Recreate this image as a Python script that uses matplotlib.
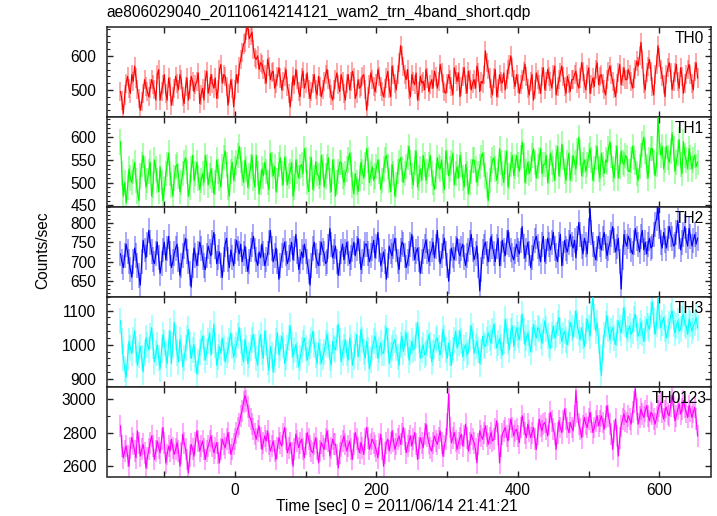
import numpy as np
import matplotlib
matplotlib.use("Agg")
import matplotlib.pyplot as plt
from matplotlib.ticker import MultipleLocator

plt.rcParams['font.family'] = ['Liberation Sans', 'DejaVu Sans']

title = "ae806029040_20110614214121_wam2_trn_4band_short.qdp"
xlabel = "Time [sec] 0 = 2011/06/14 21:41:21"
ylabel = "Counts/sec"

t_start = -162
t_step = 2

th0 = [495,470, 430,485, 520,540, 505,490, 545,525, 570,535, 500,475, 440,465, 490,530, 510,495,
       480,505, 530,515, 500,470, 545,560, 470,495, 515,545, 490,470, 535,510, 455,480, 505,540,
       520,500, 545,530, 480,460, 510,535, 470,500, 540,525, 495,515, 525,550, 460,485, 505,470,
       530,555, 490,510, 545,520, 505,535, 475,500, 560,575, 520,545, 540,510, 455,490, 530,505,
       450,500, 545,520, 570,590, 610,635, 640,675, 690,650, 660,670, 620,595, 590,600, 560,580,
       575,560, 545,520, 590,570, 530,550, 555,505, 520,540, 565,535, 500,525, 540,560, 510,490,
       450,495, 540,515, 560,530, 495,480, 535,555, 505,520, 550,500, 475,495, 520,545, 500,485,
       540,510, 480,500, 525,545, 560,530, 505,485, 470,500, 530,550, 515,495, 545,525, 490,470,
       520,545, 500,525, 555,535, 475,490, 530,505, 510,540, 545,500, 440,480, 515,550, 530,510,
       495,520, 560,540, 510,495, 480,505, 535,555, 505,480, 570,545, 520,500, 545,580, 630,600,
       570,545, 530,560, 500,480, 545,525, 515,550, 470,495, 540,520, 525,500, 560,535, 495,515,
       530,505, 555,540, 505,525, 575,550, 520,495, 490,520, 545,530, 510,485, 565,545, 525,550,
       480,510, 540,565, 515,490, 555,530, 500,520, 530,505, 570,550, 495,525, 520,545, 615,580,
       560,535, 505,485, 535,560, 480,505, 545,525, 520,550, 500,530, 560,575, 600,565, 530,510,
       545,520, 490,515, 530,555, 575,540, 505,485, 525,545, 470,500, 550,530, 515,490, 540,565,
       500,525, 560,540, 525,505, 545,570, 485,510, 530,550, 570,540, 510,490, 540,520, 495,530,
       530,545, 555,520, 505,535, 580,555, 520,500, 545,565, 490,515, 535,510, 560,580, 515,540,
       545,520, 500,485, 530,555, 570,545, 525,505, 480,520, 550,575, 515,540, 565,530, 530,560,
       545,525, 505,535, 560,585, 570,600, 640,590, 520,500, 550,570, 590,555, 510,485, 545,575,
       630,595, 560,540, 515,480, 545,565, 580,550, 500,525, 550,575, 525,505, 565,540, 490,520,
       545,560, 575,545, 520,500, 555,580, 535]

th1 = [590,520, 470,500, 455,490, 530,510, 500,525, 545,505, 480,460, 515,540, 560,530, 490,505,
       525,545, 470,495, 550,530, 505,480, 535,500, 460,485, 520,540, 565,520, 495,470, 510,535,
       540,515, 480,500, 520,545, 555,525, 470,490, 530,560, 505,520, 545,510, 485,505, 520,500,
       560,535, 495,515, 530,505, 475,500, 550,525, 510,490, 535,555, 570,540, 490,470, 525,545,
       505,530, 545,560, 580,550, 520,500, 550,530, 490,515, 535,560, 510,490, 560,520, 475,500,
       530,515, 545,525, 500,485, 565,540, 515,535, 480,505, 540,555, 520,495, 555,530, 495,515,
       525,545, 470,490, 550,525, 510,535, 540,520, 575,550, 500,480, 530,555, 485,510, 545,520,
       515,495, 560,535, 490,515, 535,555, 505,480, 550,525, 470,500, 525,545, 545,515, 500,520,
       530,550, 565,540, 495,475, 520,500, 480,510, 545,525, 510,540, 575,550, 500,520, 535,505,
       515,535, 550,525, 485,505, 530,550, 560,535, 505,480, 540,520, 470,495, 525,545, 555,530,
       500,520, 535,555, 580,545, 515,495, 545,570, 490,510, 530,505, 560,540, 505,525, 540,560,
       520,500, 485,515, 555,535, 530,550, 505,485, 570,545, 515,530, 545,565, 495,520, 535,510,
       560,540, 510,490, 540,520, 475,500, 525,550, 550,530, 500,520, 535,555, 565,540, 515,495,
       460,505, 530,550, 555,530, 505,525, 575,545, 520,500, 545,570, 490,515, 540,560, 515,535,
       560,540, 525,555, 590,560, 500,525, 545,520, 530,560, 575,545, 510,535, 550,575, 520,540,
       540,560, 500,525, 565,545, 530,505, 555,580, 515,540, 585,555, 525,505, 545,565, 505,530,
       560,545, 530,570, 600,565, 515,540, 550,525, 540,560, 575,550, 505,530, 555,580, 530,510,
       565,540, 520,550, 545,575, 590,560, 530,510, 555,580, 510,535, 570,545, 540,560, 555,525,
       525,550, 580,555, 545,520, 505,535, 560,585, 600,570, 535,510, 550,575, 575,545, 515,540,
       645,590, 560,580, 530,550, 580,555, 545,570, 610,575, 525,545, 565,595, 540,520, 590,560,
       550,530, 575,555, 530,550, 560,535, 545]

th2 = [720,700, 685,715, 745,725, 700,680, 660,700, 735,715, 690,665, 640,700, 755,730, 710,745,
       780,750, 725,705, 695,720, 750,710, 670,695, 730,750, 705,735, 765,720, 685,700, 720,735,
       745,705, 665,690, 715,740, 760,725, 700,670, 635,690, 735,715, 690,720, 750,735, 710,690,
       680,715, 740,725, 715,750, 775,740, 695,710, 725,690, 660,705, 745,760, 705,685, 730,710,
       690,725, 755,735, 720,745, 700,720, 740,705, 675,700, 730,745, 765,730, 705,690, 725,710,
       745,720, 690,705, 720,750, 780,735, 700,715, 735,700, 655,690, 715,730, 750,720, 695,710,
       730,750, 705,735, 770,725, 680,700, 725,710, 745,725, 700,675, 640,690, 735,750, 715,700,
       690,720, 750,730, 720,695, 700,740, 785,745, 710,725, 740,700, 665,695, 725,745, 705,725,
       750,720, 695,710, 730,750, 715,735, 760,725, 680,700, 720,745, 745,720, 700,715, 735,755,
       710,740, 775,730, 690,705, 725,700, 655,690, 740,725, 715,740, 760,730, 700,680, 730,750,
       745,715, 685,700, 720,745, 770,735, 705,725, 735,705, 670,700, 725,740, 755,725, 700,720,
       730,750, 710,740, 780,730, 695,715, 740,760, 720,690, 650,700, 735,715, 705,735, 760,725,
       715,735, 745,710, 690,715, 730,750, 770,730, 705,720, 740,690, 625,680, 725,740, 750,720,
       700,730, 765,740, 720,700, 740,760, 690,720, 755,730, 715,750, 780,745, 730,715, 705,725,
       745,730, 720,755, 790,740, 710,730, 750,720, 685,710, 735,755, 765,740, 720,700, 745,765,
       700,725, 760,745, 730,750, 775,735, 715,700, 745,770, 690,720, 755,735, 725,750, 770,745,
       735,755, 710,760, 800,770, 740,720, 760,745, 720,780, 835,775, 745,720, 705,735, 765,745,
       730,760, 775,740, 715,735, 750,770, 790,755, 725,740, 760,700, 630,710, 770,750, 740,765,
       755,730, 720,750, 785,760, 745,725, 765,780, 730,750, 720,745, 760,735, 740,770, 795,810,
       840,790, 750,735, 775,755, 735,760, 790,770, 760,740, 745,775, 805,765, 730,750, 770,790,
       755,740, 785,765, 740,755, 770,745, 760]

th3 = [1070,1010, 960,930, 905,965, 1010,990, 975,1015, 1040,985, 940,970, 995,960, 920,975, 1020,1000,
       985,1025, 1050,995, 950,975, 1000,960, 930,985, 1030,1005, 970,945, 1005,1040, 945,1000, 1065,1020,
       975,950, 1015,990, 935,960, 990,1020, 1045,1000, 960,985, 1000,955, 915,950, 980,1005, 1025,990,
       955,980, 1010,1035, 970,1010, 1060,1000, 940,965, 995,975, 1020,990, 950,970, 985,1010, 1035,995,
       965,985, 1000,1025, 1050,1010, 975,950, 1015,990, 945,970, 990,1015, 1030,995, 960,940, 1005,1030,
       980,960, 1040,1005, 950,925, 995,970, 920,955, 1010,1035, 970,990, 1025,1000, 945,965, 990,1020,
       1055,1000, 965,985, 1000,970, 935,960, 985,1005, 1020,990, 955,975, 995,1015, 1040,1000, 970,945,
       1005,980, 945,965, 980,1005, 1030,1000, 960,940, 1010,990, 985,1020, 1060,1010, 950,975, 995,1015,
       975,955, 1020,995, 940,965, 1000,1030, 965,990, 1045,1015, 980,960, 1010,985, 930,955, 990,1010,
       1025,1000, 960,985, 1005,975, 975,1020, 1050,1010, 945,970, 990,1005, 1015,990, 965,940, 1000,1025,
       980,1005, 1035,1000, 955,980, 1010,985, 990,1030, 1065,1015, 960,985, 1000,970, 975,1005, 1030,1000,
       950,975, 995,1015, 1020,990, 970,1000, 1045,1020, 985,960, 1005,975, 940,985, 1015,1040, 990,1005,
       1040,1010, 965,990, 1000,970, 980,1020, 1055,1025, 975,995, 1010,985, 945,980, 1025,1000, 995,1015,
       1035,1020, 1005,1040, 1060,1025, 990,1005, 1020,995, 970,1010, 1075,1040, 1010,985, 1040,1055, 995,1020,
       1050,1030, 1015,1050, 1090,1040, 1000,1020, 1035,1005, 980,1015, 1060,1035, 1020,1050, 1045,1025, 1005,1040,
       1070,1045, 1025,1000, 990,1030, 1055,1020, 1030,1065, 1080,1040, 1010,1030, 1040,1015, 1000,1035, 1065,1050,
       1020,1060, 1100,1055, 1035,1015, 1050,1025, 995,1040, 1075,1050, 1025,1090, 1140,1080, 1040,1065, 1010,960,
       910,990, 1030,1060, 1085,1045, 1015,1040, 1050,1020, 1000,1035, 1070,1050, 1035,1070, 1110,1060, 1020,1045,
       1055,1030, 1040,1075, 1090,1050, 1025,1040, 1065,1035, 1010,1045, 1075,1055, 1045,1090, 1125,1070, 1030,1060,
       1140,1085, 1050,1065, 1080,1045, 1020,1040, 1060,1085, 1100,1060, 1035,1055, 1070,1040, 1045,1075, 1090,1060,
       1055,1030, 1075,1060, 1040,1055, 1065,1080, 1050]

th0123 = [2840,2720, 2650,2690, 2720,2660, 2600,2710, 2770,2730, 2690,2650, 2810,2740, 2660,2700, 2730,2680, 2590,2650,
          2700,2740, 2780,2720, 2640,2690, 2750,2710, 2680,2760, 2830,2740, 2620,2670, 2720,2690, 2760,2710, 2670,2700,
          2740,2690, 2600,2680, 2790,2740, 2700,2640, 2560,2660, 2730,2700, 2660,2740, 2810,2750, 2690,2720, 2750,2700,
          2640,2690, 2720,2750, 2780,2720, 2680,2710, 2740,2680, 2620,2700, 2760,2730, 2710,2760, 2800,2740, 2670,2700,
          2730,2760, 2800,2830, 2850,2900, 2930,2980, 3020,2990, 2950,2900, 2880,2850, 2820,2790, 2760,2810, 2840,2770,
          2700,2740, 2780,2750, 2810,2730, 2690,2720, 2750,2690, 2640,2710, 2770,2740, 2720,2790, 2830,2760, 2680,2710,
          2740,2680, 2600,2700, 2790,2750, 2710,2740, 2760,2700, 2650,2730, 2800,2760, 2720,2690, 2680,2730, 2770,2700,
          2620,2690, 2740,2720, 2700,2760, 2810,2750, 2660,2710, 2760,2730, 2730,2670, 2590,2680, 2720,2750, 2780,2730,
          2690,2720, 2750,2700, 2640,2730, 2800,2760, 2710,2680, 2740,2710, 2670,2760, 2830,2770, 2700,2730, 2760,2740,
          2720,2690, 2650,2730, 2790,2700, 2600,2680, 2740,2760, 2690,2740, 2810,2750, 2700,2730, 2760,2780, 2730,2790,
          2830,2760, 2680,2720, 2750,2780, 2720,2760, 2800,2730, 2640,2710, 2770,2740, 2710,2790, 2850,2780, 2740,2710,
          2690,2740, 2780,2750, 2730,2770, 2810,2740, 2660,2720, 2760,2850, 3030,2830, 2740,2770, 2800,2750, 2700,2740,
          2770,2790, 2720,2780, 2850,2770, 2690,2740, 2790,2760, 2740,2700, 2620,2730, 2810,2780, 2760,2800, 2840,2780,
          2730,2770, 2800,2750, 2760,2820, 2870,2790, 2620,2720, 2790,2810, 2830,2780, 2750,2820, 2880,2830, 2780,2810,
          2820,2780, 2740,2830, 2900,2850, 2800,2770, 2850,2810, 2770,2800, 2830,2760, 2700,2790, 2880,2840, 2810,2850,
          2860,2820, 2780,2850, 2920,2870, 2820,2790, 2700,2800, 2870,2830, 2800,2870, 2940,2880, 2830,2800, 2860,2830,
          2810,2900, 3050,2920, 2850,2820, 2770,2840, 2890,2850, 2830,2880, 2920,2860, 2800,2830, 2870,2900, 2840,2870,
          2900,2860, 2820,2890, 2960,2900, 2850,2790, 2700,2810, 2880,2780, 2660,2770, 2840,2880, 2910,2870, 2860,2900,
          2880,2850, 2920,2980, 3060,2940, 2850,2890, 2940,2910, 2890,2930, 2960,2900, 2870,2920, 2910,2880, 2850,2890,
          2930,2960, 2980,2920, 2880,2930, 2950,2910, 2900,2960, 3020,2950, 2870,2900, 2940,2970, 2910,2940, 2990,2950,
          2920,2890, 2960,2930, 2890,2920, 2950,2880, 2780]

series = [th0, th1, th2, th3, th0123]
names = ["TH0", "TH1", "TH2", "TH3", "TH0123"]
colors = ["#ff0000", "#00ff00", "#0000ff", "#00ffff", "#ff00ff"]
errors = [28, 28, 32, 38, 65]
ylims = [(420.6, 685), (446.7, 645), (610.3, 840.7), (877.5, 1140.8), (2539, 3073)]
majors = [100, 50, 50, 100, 200]
minors = [20, 10, 10, 20, 100]
xlim = (-181.5, 673)
fs = 11.2

fig = plt.figure(figsize=(7.17, 5.16), dpi=100)
left, right = 106.7 / 717, 711 / 717
top_px, bot_px = 27, 476.5
ph = (bot_px - top_px) / 5
spine_c = "#222222"

for i in range(5):
    y0 = 1 - (top_px + (i + 1) * ph) / 516
    ax = fig.add_axes([left, y0, right - left, ph / 516])
    y = np.array(series[i], dtype=float)
    t = t_start + t_step * np.arange(len(y))
    ax.vlines(t, y - errors[i], y + errors[i], colors=colors[i], lw=1.2,
              alpha=0.4, zorder=2)
    ax.plot(t, y, color=colors[i], lw=0.85, zorder=3)
    ax.set_xlim(*xlim)
    ax.set_ylim(*ylims[i])
    ax.xaxis.set_major_locator(MultipleLocator(200))
    ax.xaxis.set_minor_locator(MultipleLocator(100))
    ax.yaxis.set_major_locator(MultipleLocator(majors[i]))
    ax.yaxis.set_minor_locator(MultipleLocator(minors[i]))
    ax.tick_params(axis='both', which='major', direction='in', length=4.5,
                   width=1.0, color=spine_c, top=True, right=True,
                   labelsize=fs, pad=7.5)
    ax.tick_params(axis='y', which='minor', direction='in', length=2.5,
                   width=0.8, color=spine_c, left=True, right=True)
    ax.tick_params(axis='x', which='minor', direction='in', length=4.5,
                   width=1.0, color=spine_c, top=True, bottom=True)
    ax.tick_params(axis='x', which='major', pad=4.5)
    for s in ax.spines.values():
        s.set_linewidth(1.1)
        s.set_color(spine_c)
    if i < 4:
        ax.tick_params(axis='x', labelbottom=False)
    xr = 0.993 if i == 4 else 0.988
    ax.text(xr, 0.955, names[i], transform=ax.transAxes, ha='right', va='top',
            fontsize=fs, zorder=5)

fig.text(left, 1 - 12 / 516, title, ha='left', va='center', fontsize=fs)
fig.text(397 / 717, 1 - 507 / 516, xlabel, ha='center', va='center', fontsize=fs)
fig.text(43 / 717, 1 - 250 / 516, ylabel, ha='center', va='center', rotation=90, fontsize=fs)

fig.savefig("out.png", dpi=100)
